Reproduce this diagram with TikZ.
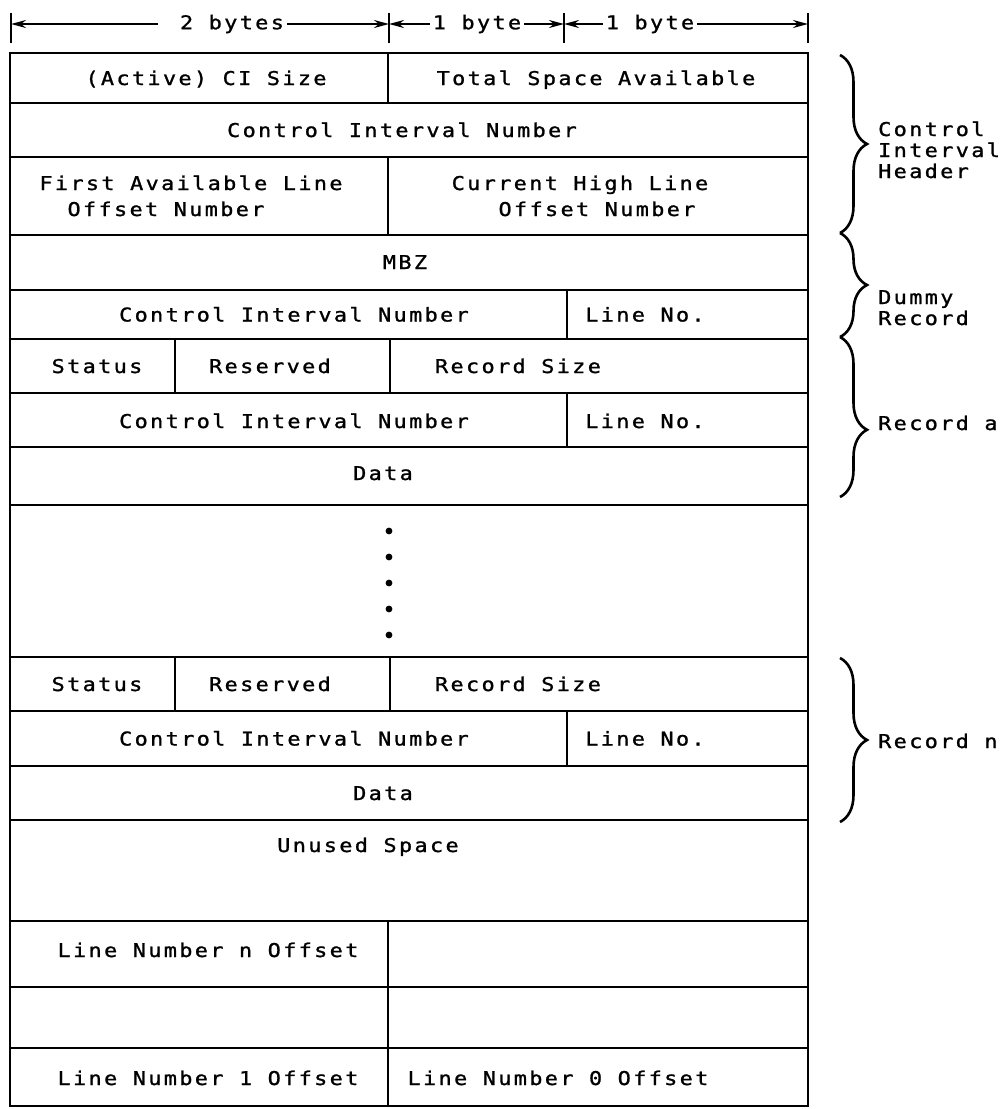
\documentclass[tikz,border=0pt]{standalone}
\usepackage{fontspec}
\newfontfamily\ibmfont[LetterSpace=12.4, FakeStretch=1.15, FakeBold=1.2]{DejaVu Sans Mono}
\usetikzlibrary{arrows.meta,decorations.pathreplacing}
\tikzstyle{field} = [font=\ibmfont\fontsize{19}{22}\selectfont, anchor=base, inner sep=0pt]
\tikzstyle{sidelabel} = [field, anchor=base west]
\tikzstyle{bytelabel} = [field, anchor=center, inner xsep=3pt]
\tikzstyle{cellline} = [line width=2.6pt]
\tikzstyle{dimline} = [line width=1.8pt, -{Stealth[length=15pt,width=8pt]}]
\tikzstyle{sidebrace} = [line width=2.6pt, decorate, decoration={brace, amplitude=27pt}]
\begin{document}
\begin{tikzpicture}[x=1pt,y=-1pt]
\useasboundingbox (0,0) rectangle (1008,1109);
% byte ruler
\foreach \x/\n in {11/tk0,389/tk1,564/tk2,808/tk3} {
  \draw[line width=2pt] (\x,13) -- (\x,43);
  \coordinate (\n) at (\x,24);
}
\node (twobytes) [bytelabel] at (232,24) {2 bytes};
\node (onebyteA) [bytelabel] at (477,24) {1 byte};
\node (onebyteB) [bytelabel] at (650,24) {1 byte};
\draw[dimline, shorten <=19pt] (twobytes.west) -- (tk0);
\draw[dimline] (twobytes.east) -- (tk1);
\draw[dimline] (onebyteA.west) -- (tk1);
\draw[dimline] (onebyteA.east) -- (tk2);
\draw[dimline] (onebyteB.west) -- (tk2);
\draw[dimline] (onebyteB.east) -- (tk3);
% control interval frame
\draw[cellline] (10,53) rectangle (808,1106);
\foreach \y in {103,157,235,290,339,393,447,505,657,711,766,820,921,987,1048}
  \draw[cellline] (10,\y) -- (808,\y);
\foreach \x/\ya/\yb in {388/53/103, 388/157/235, 390/339/393, 390/657/711, 388/921/1106,
                        175/339/393, 175/657/711, 567/290/339, 567/393/447, 567/711/766}
  \draw[cellline] (\x,\ya) -- (\x,\yb);
% header
\node (cisize) [field] at (206,85) {(Active) CI Size};
\node (totspace) [field] at (596,85) {Total Space Available};
\node (cinum) [field] at (402,137) {Control Interval Number};
\node (firstA) [field] at (191,190) {First Available Line};
\node (firstB) [field] at (166,216) {Offset Number};
\node (highA) [field] at (580,190) {Current High Line};
\node (highB) [field] at (597,216) {Offset Number};
% dummy record
\node (mbz) [field] at (405,269) {MBZ};
\node (dumcin) [field] at (294,321.5) {Control Interval Number};
\node (dumline) [field] at (645,321.5) {Line No.};
% record a
\node (astatus) [field] at (97,373) {Status};
\node (areserved) [field] at (270,373) {Reserved};
\node (asize) [field] at (518,373) {Record Size};
\node (acin) [field] at (294,428) {Control Interval Number};
\node (aline) [field] at (645,428) {Line No.};
\node (adata) [field] at (383,480) {Data};
\foreach \y in {531,557,583,609,635}
  \fill (389,\y) circle (3.4);
% record n
\node (nstatus) [field] at (97,691) {Status};
\node (nreserved) [field] at (270,691) {Reserved};
\node (nsize) [field] at (518,691) {Record Size};
\node (ncin) [field] at (294,745.5) {Control Interval Number};
\node (nline) [field] at (645,745.5) {Line No.};
\node (ndata) [field] at (383,800) {Data};
% free space and line offsets
\node (unused) [field] at (368,852) {Unused Space};
\node (offn) [field] at (208,957) {Line Number n Offset};
\node (off1) [field] at (208,1085) {Line Number 1 Offset};
\node (off0) [field] at (558,1085) {Line Number 0 Offset};
% braces
\coordinate (hdrtop) at (840,55);
\coordinate (hdrbot) at (840,233);
\coordinate (dumbot) at (840,337);
\coordinate (recabot) at (840,497);
\coordinate (recntop) at (840,658);
\coordinate (recnbot) at (840,822);
\draw[sidebrace] (hdrtop) -- (hdrbot);
\draw[sidebrace] (hdrbot) -- (dumbot);
\draw[sidebrace, decoration={aspect=0.58}] (dumbot) -- (recabot);
\draw[sidebrace] (recntop) -- (recnbot);
\node (ctlA) [sidelabel] at (878,136) {Control};
\node (ctlB) [sidelabel] at (878,157) {Interval};
\node (ctlC) [sidelabel] at (878,178) {Header};
\node (dumA) [sidelabel] at (878,304) {Dummy};
\node (dumB) [sidelabel] at (878,325) {Record};
\node (reca) [sidelabel] at (878,430) {Record a};
\node (recn) [sidelabel] at (878,748) {Record n};
\end{tikzpicture}
\end{document}
